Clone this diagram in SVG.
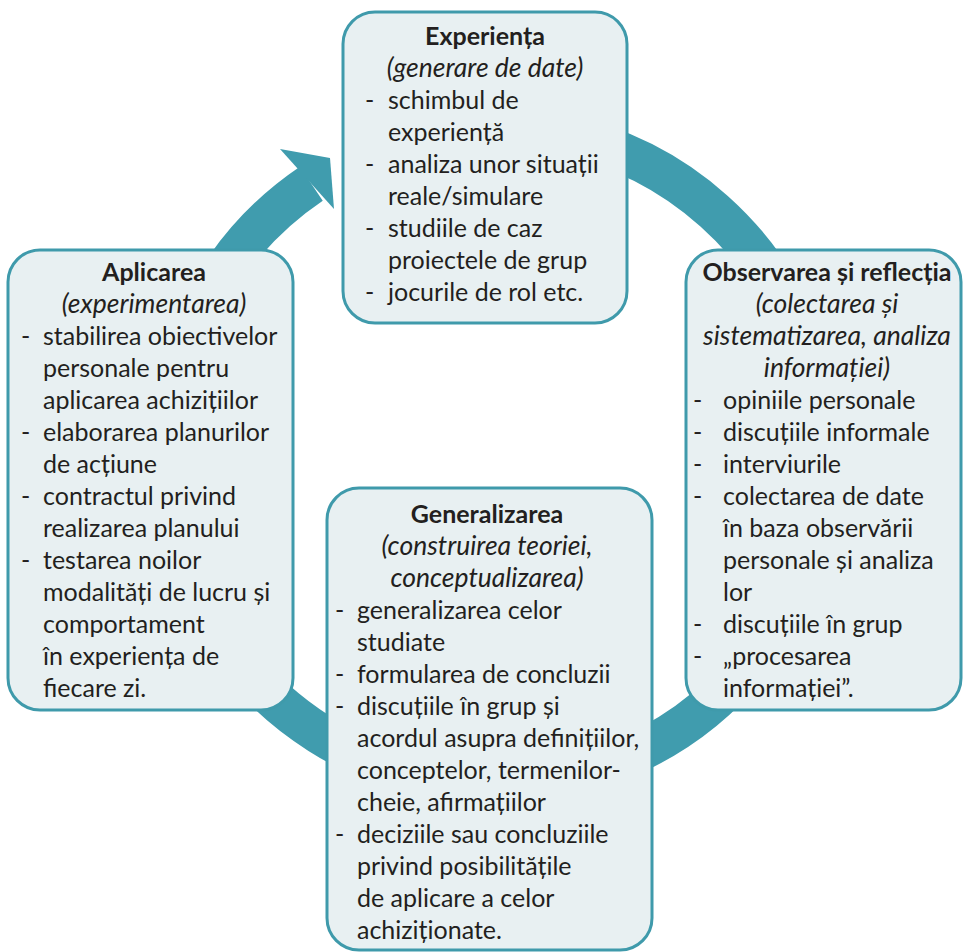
<svg xmlns="http://www.w3.org/2000/svg" width="964" height="952" viewBox="0 0 964 952">
<style>
.box{fill:#e8f0f2;stroke:#3f9aab;stroke-width:3}
text{font-family:Lato,"Liberation Sans",sans-serif;font-size:25px;fill:#231f20}
.t{font-weight:bold;text-anchor:middle}
.s{font-style:italic;text-anchor:middle;font-size:26.5px}
.ring{fill:none;stroke:#409cae;stroke-width:41}
</style>
<rect width="964" height="952" fill="#ffffff"/>
<g id="connectors">
<path class="ring" d="M 410 138.7 A 328.5 328.5 0 1 1 311.3 183.7"/>
<polygon points="280,149 330,158 334,209" fill="#409cae"/>
</g>
<g id="experienta">
<rect class="box" x="343" y="12" width="284" height="311" rx="32"/>
<text class="t" x="485" y="45">Experiența</text>
<text class="s" x="485" y="77">(generare de date)</text>
<text x="365" y="109">-</text><text x="388" y="109">schimbul de</text>
<text x="388" y="141">experiență</text>
<text x="365" y="173">-</text><text x="388" y="173">analiza unor situații</text>
<text x="388" y="205">reale/simulare</text>
<text x="365" y="237">-</text><text x="388" y="237">studiile de caz</text>
<text x="388" y="269">proiectele de grup</text>
<text x="365" y="301">-</text><text x="388" y="301">jocurile de rol etc.</text>
</g>
<g id="observarea">
<rect class="box" x="686" y="250" width="275" height="460" rx="32"/>
<text class="t" x="827" y="281">Observarea și reflecția</text>
<text class="s" x="827" y="313">(colectarea și</text>
<text class="s" x="827" y="345">sistematizarea, analiza</text>
<text class="s" x="827" y="377">informației)</text>
<text x="693" y="409">-</text><text x="723" y="409">opiniile personale</text>
<text x="693" y="441">-</text><text x="723" y="441">discuțiile informale</text>
<text x="693" y="473">-</text><text x="723" y="473">interviurile</text>
<text x="693" y="505">-</text><text x="723" y="505">colectarea de date</text>
<text x="723" y="537">în baza observării</text>
<text x="723" y="569">personale și analiza</text>
<text x="723" y="601">lor</text>
<text x="693" y="633">-</text><text x="723" y="633">discuțiile în grup</text>
<text x="693" y="665">-</text><text x="723" y="665">„procesarea</text>
<text x="723" y="697">informației”.</text>
</g>
<g id="aplicarea">
<rect class="box" x="8" y="250" width="285" height="460" rx="32"/>
<text class="t" x="154" y="281">Aplicarea</text>
<text class="s" x="154" y="313">(experimentarea)</text>
<text x="21" y="345">-</text><text x="43" y="345">stabilirea obiectivelor</text>
<text x="43" y="377">personale pentru</text>
<text x="43" y="409">aplicarea achizițiilor</text>
<text x="21" y="441">-</text><text x="43" y="441">elaborarea planurilor</text>
<text x="43" y="473">de acțiune</text>
<text x="21" y="505">-</text><text x="43" y="505">contractul privind</text>
<text x="43" y="537">realizarea planului</text>
<text x="21" y="569">-</text><text x="43" y="569">testarea noilor</text>
<text x="43" y="601">modalități de lucru și</text>
<text x="43" y="633">comportament</text>
<text x="43" y="665">în experiența de</text>
<text x="43" y="697">fiecare zi.</text>
</g>
<g id="generalizarea">
<rect class="box" x="327" y="488" width="325" height="462" rx="32"/>
<text class="t" x="487" y="523">Generalizarea</text>
<text class="s" x="487" y="555">(construirea teoriei,</text>
<text class="s" x="487" y="587">conceptualizarea)</text>
<text x="335" y="619">-</text><text x="357" y="619">generalizarea celor</text>
<text x="357" y="651">studiate</text>
<text x="335" y="683">-</text><text x="357" y="683">formularea de concluzii</text>
<text x="335" y="715">-</text><text x="357" y="715">discuțiile în grup și</text>
<text x="357" y="747">acordul asupra definițiilor,</text>
<text x="357" y="779">conceptelor, termenilor-</text>
<text x="357" y="811">cheie, afirmațiilor</text>
<text x="335" y="843">-</text><text x="357" y="843">deciziile sau concluziile</text>
<text x="357" y="875">privind posibilitățile</text>
<text x="357" y="907">de aplicare a celor</text>
<text x="357" y="939">achiziționate.</text>
</g>
</svg>
